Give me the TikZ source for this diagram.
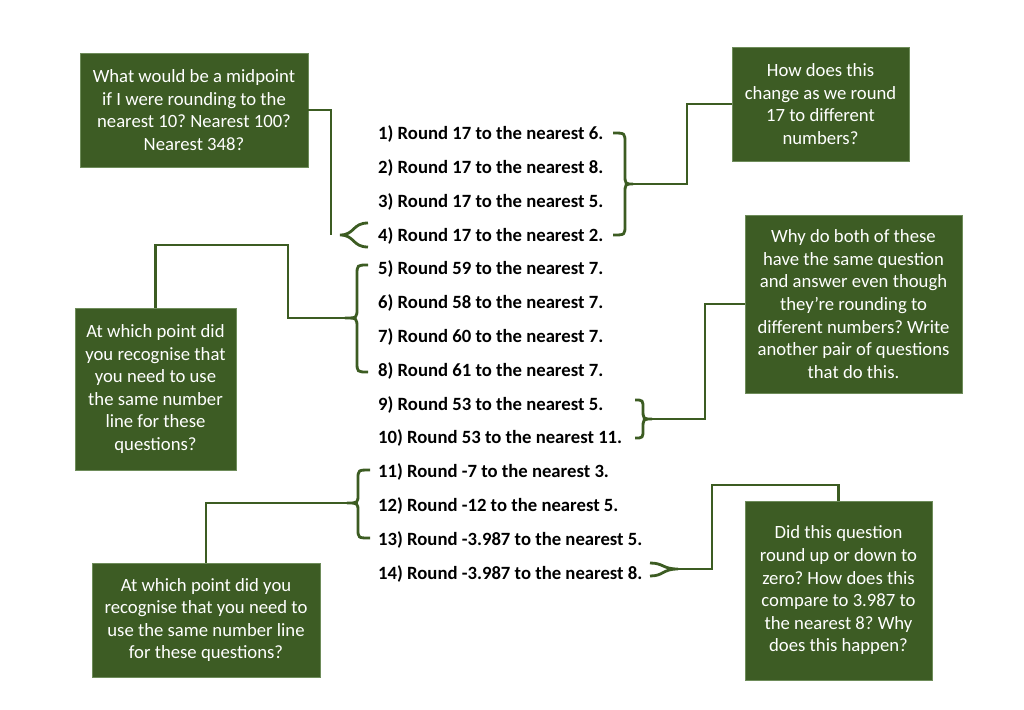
\documentclass[tikz,border=0pt]{standalone}
\usepackage{fontspec}
\setmainfont{Carlito}
\frenchspacing
\definecolor{boxgreen}{RGB}{61,92,36}
\definecolor{boxedge}{RGB}{110,140,90}
\definecolor{linegreen}{RGB}{60,92,34}
\begin{document}
\begin{tikzpicture}[x=1pt,y=-1pt,
  gbox/.style={fill=boxgreen,draw=boxedge,line width=0.6pt,text=white,align=center,
    font=\fontsize{18.7}{22.6}\selectfont,inner sep=0pt},
  qtext/.style={anchor=west,font=\fontsize{18.7}{20}\selectfont\bfseries,inner sep=0pt},
  conn/.style={draw=linegreen,line width=2.8pt,line join=miter},
  brc/.style={draw=linegreen,line width=2.8pt}]
\useasboundingbox (0,0) rectangle (1024,709);

% boxes
\node[gbox,minimum width=228pt,minimum height=114pt] (b1) at (194,110)
  {What would be a midpoint\\if I were rounding to the\\nearest 10? Nearest 100?\\Nearest 348?};
\node[gbox,minimum width=177pt,minimum height=114pt] (b2) at (820.5,104)
  {How does this\\change as we round\\17 to different\\numbers?};
\node[gbox,minimum width=161pt,minimum height=162pt] (b3) at (155.5,389)
  {At which point did\\you recognise that\\you need to use\\the same number\\line for these\\questions?};
\node[gbox,minimum width=217pt,minimum height=178pt] (b4) at (853.5,304)
  {Why do both of these\\have the same question\\and answer even though\\they’re rounding to\\different numbers? Write\\another pair of questions\\that do this.};
\node[gbox,minimum width=228pt,minimum height=114pt] (b5) at (206,620)
  {At which point did you\\recognise that you need to\\use the same number line\\for these questions?};
\node[gbox,minimum width=187pt,minimum height=179pt] (b6) at (838.5,590.5)
  {Did this question\\round up or down to\\zero? How does this\\compare to 3.987 to\\the nearest 8? Why\\does this happen?};

% questions
\node[qtext] (q1) at (378,134) {1) Round 17 to the nearest 6.};
\node[qtext] (q2) at (378,168) {2) Round 17 to the nearest 8.};
\node[qtext] (q3) at (378,201.5) {3) Round 17 to the nearest 5.};
\node[qtext] (q4) at (378,235.5) {4) Round 17 to the nearest 2.};
\node[qtext] (q5) at (378,269) {5) Round 59 to the nearest 7.};
\node[qtext] (q6) at (378,303) {6) Round 58 to the nearest 7.};
\node[qtext] (q7) at (378,337) {7) Round 60 to the nearest 7.};
\node[qtext] (q8) at (378,370.5) {8) Round 61 to the nearest 7.};
\node[qtext] (q9) at (378,404.5) {9) Round 53 to the nearest 5.};
\node[qtext] (q10) at (378,438) {10) Round 53 to the nearest 11.};
\node[qtext] (q11) at (378,472) {11) Round -7 to the nearest 3.};
\node[qtext] (q12) at (378,506) {12) Round -12 to the nearest 5.};
\node[qtext] (q13) at (378,539.5) {13) Round -3.987 to the nearest 5.};
\node[qtext] (q14) at (378,573.5) {14) Round -3.987 to the nearest 8.};

% brace tips
\coordinate (t14a) at (633,184);
\coordinate (t4) at (340,235);
\coordinate (t58) at (345,318);
\coordinate (t910) at (652,419);
\coordinate (t1113) at (347,503);
\coordinate (t14) at (678,569);
\coordinate (e1) at (331,235);

% braces
\draw[brc] (613,133) .. controls (625,133) .. (625,143) -- (625,174) .. controls (625,184) .. (t14a)
  .. controls (625,184) .. (625,194) -- (625,225) .. controls (625,235) .. (613,235);
\draw[brc] (368,223) .. controls (352,223) and (355,235) .. (t4) .. controls (355,235) and (352,247) .. (368,247);
\draw[brc] (368,265) .. controls (357,265) .. (357,275) -- (357,308) .. controls (357,318) .. (t58)
  .. controls (357,318) .. (357,328) -- (357,362) .. controls (357,372) .. (368,372);
\draw[brc] (635,400) .. controls (643,400) .. (643,409) .. controls (643,419) .. (t910)
  .. controls (643,419) .. (643,429) .. controls (643,438) .. (635,438);
\draw[brc] (370,470) .. controls (358,470) .. (358,479) -- (358,494) .. controls (358,503) .. (t1113)
  .. controls (358,503) .. (358,512) -- (358,529) .. controls (358,538) .. (370,538);
\draw[brc] (650,563) .. controls (664,563) and (662,569) .. (t14) .. controls (662,569) and (664,576) .. (650,576);

% connectors
\draw[conn] (b1.east) -| (e1);
\draw[conn] (t14a) -- (687,184) |- (b2.west);
\draw[conn] (t58) -- (288,318) -- (288,245) -| (b3.north);
\draw[conn] (t910) -- (705,419) |- (b4.west);
\draw[conn] (t1113) -| (b5.north);
\draw[conn] (t14) -- (712,569) -- (712,485) -| (b6.north);
\end{tikzpicture}
\end{document}
